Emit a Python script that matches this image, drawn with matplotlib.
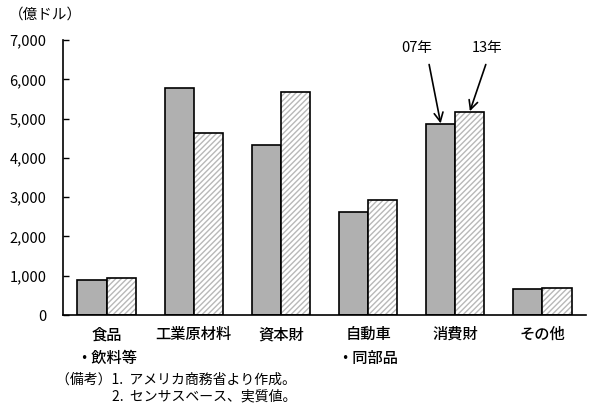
import matplotlib.pyplot as plt
import numpy as np

plt.rcParams['font.family'] = ['Noto Sans CJK JP', 'DejaVu Sans']

categories = ['食品\n・飲料等', '工業原材料', '資本財', '自動車\n・同部品', '消費財', 'その他']
values_07 = [890, 5780, 4330, 2620, 4860, 660]
values_13 = [940, 4630, 5670, 2930, 5170, 690]
yticks = [0, 1000, 2000, 3000, 4000, 5000, 6000, 7000]
ytick_labels = ['0', '1,000', '2,000', '3,000', '4,000', '5,000', '6,000', '7,000']

fig = plt.figure(figsize=(5.91, 4.09), dpi=100)
ax = fig.add_axes([0.1066, 0.2298, 0.885, 0.672])

x = np.arange(len(categories))
w = 0.335
ax.bar(x - w / 2, values_07, w, color='#b0b0b0', edgecolor='black', linewidth=1.2, zorder=2)
ax.bar(x + w / 2, values_13, w, color='white', edgecolor='#b8b8b8', hatch='//////', linewidth=0, zorder=2)
ax.bar(x + w / 2, values_13, w, fill=False, edgecolor='black', linewidth=1.2, zorder=3)

ax.set_xlim(-0.5, 5.5)
ax.set_ylim(0, 7000)
ax.set_yticks(yticks)
ax.set_yticklabels(ytick_labels, fontsize=10.5)
ax.tick_params(axis='y', direction='in', length=4, width=1, pad=12)
ax.set_xticks(x)
ax.set_xticklabels(categories, fontsize=11, fontweight='medium', linespacing=1.5, va='top')
ax.tick_params(axis='x', length=0, pad=8)
ax.spines['top'].set_visible(False)
ax.spines['right'].set_visible(False)
ax.spines['left'].set_linewidth(1.2)
ax.spines['bottom'].set_linewidth(1.2)

# labels and arrows for the 消費財 pair
ax.text(3.56, 6800, '07年', fontsize=10.5, ha='center', va='center')
ax.text(4.36, 6800, '13年', fontsize=10.5, ha='center', va='center')
ax.annotate('', xy=(4 - w / 2, values_07[4] + 20), xytext=(3.70, 6380),
            arrowprops=dict(arrowstyle='->', color='black', lw=1.2, shrinkA=0, shrinkB=0,
                            mutation_scale=16))
ax.annotate('', xy=(4 + w / 2, values_13[4] + 20), xytext=(4.35, 6380),
            arrowprops=dict(arrowstyle='->', color='black', lw=1.2, shrinkA=0, shrinkB=0,
                            mutation_scale=16))

fig.text(0.015, 0.965, '（億ドル）', fontsize=10.5, ha='left', va='center')
fig.text(0.095, 0.072, '（備考）1.  アメリカ商務省より作成。', fontsize=10, ha='left', va='center')
fig.text(0.190, 0.030, '2.  センサスベース、実質値。', fontsize=10, ha='left', va='center')

fig.savefig('out.png', dpi=100)
